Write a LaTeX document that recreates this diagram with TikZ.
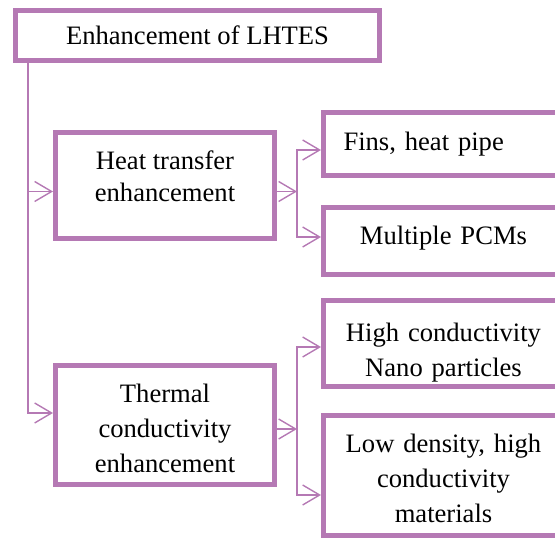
\documentclass[tikz,border=0pt]{standalone}
\usepackage{fontspec}
\setmainfont{Liberation Serif}
\newfontfamily\boxfont{Liberation Serif}
\usepackage{tikz}
\usetikzlibrary{positioning}
\usetikzlibrary{arrows.meta}
\definecolor{boxpurple}{RGB}{181,121,180}

\begin{document}
\begin{tikzpicture}[x=1pt, y=1pt,
            box/.style={draw=boxpurple, line width=5pt, fill=white, align=center, inner sep=0pt, font=\boxfont\fontsize{26.6pt}{35pt}\selectfont},
            leftbox/.style={box, minimum width=219pt},
            rightbox/.style={box, text width=200pt, inner xsep=20pt},
            link/.style={draw=boxpurple, line width=1.4pt},
            >={Straight Barb[length=17pt, width=20pt]}]
            \clip (0,0) rectangle (555,538);
            \node[box, minimum width=364pt, minimum height=50pt] (enhancement) at (197.5,502.5) {Enhancement of LHTES};
            \node[leftbox, minimum height=106pt, text depth=19pt] (heat_transfer) at (165,352.5) {Heat transfer \\[-3pt] enhancement};
            \node[leftbox, minimum height=119pt, text height=96pt] (thermal_cond) at (165,113) {Thermal \\ conductivity \\ enhancement};
            \node[rightbox, align=left, minimum height=63pt] (fins) at (443.5,394) {Fins, heat pipe};
            \node[rightbox, minimum height=67pt, text depth=11.8pt] (multiple_pcms) at (443.5,297) {Multiple PCMs};
            \node[rightbox, minimum height=86pt, text height=36pt] (nano_particles) at (443.5,194.5) {High conductivity \\ Nano particles};
            \node[rightbox, minimum height=120pt, text height=24pt] (low_density) at (443.5,62.5) {Low density, high \\ conductivity \\ materials};
            \coordinate (trunk) at ([xshift=15pt]enhancement.south west);
            \coordinate (heat_in) at ([yshift=-6pt]heat_transfer.west);
            \coordinate (heat_split) at ([xshift=20pt, yshift=-6pt]heat_transfer.east);
            \coordinate (thermal_split) at ([xshift=20pt, yshift=-4pt]thermal_cond.east);
            \draw[link, ->] (trunk) |- ([yshift=12pt]thermal_cond.west);
            \draw[link, ->] (trunk |- heat_in) -- (heat_in);
            \draw[link, ->] ([yshift=-6pt]heat_transfer.east) -- (heat_split);
            \draw[link, <->] ([yshift=-6pt]fins.west) -| (heat_split) |- ([yshift=4pt]multiple_pcms.west);
            \draw[link, ->] ([yshift=-4pt]thermal_cond.east) -- (thermal_split);
            \draw[link, <->] ([yshift=-3.5pt]nano_particles.west) -| (thermal_split) |- ([yshift=-19.5pt]low_density.west);
        \end{tikzpicture}
\end{document}
